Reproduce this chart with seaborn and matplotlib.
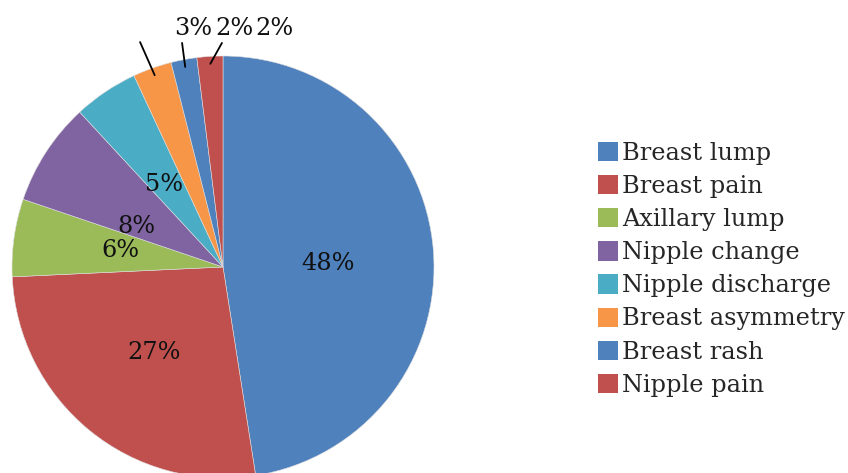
import matplotlib
matplotlib.use("Agg")
import matplotlib.pyplot as plt
import seaborn as sns
import numpy as np
from matplotlib.patches import Patch

categories = ["Breast lump", "Breast pain", "Axillary lump", "Nipple change",
              "Nipple discharge", "Breast asymmetry", "Breast rash", "Nipple pain"]
values = [48, 27, 6, 8, 5, 3, 2, 2]
labels = ["48%", "27%", "6%", "8%", "5%", "3%", "2%", "2%"]

sns.set_theme(style="white")
plt.rcParams['font.family'] = ['DejaVu Serif']

colors = ["#4F81BD", "#C0504D", "#9BBB59", "#8064A2", "#4BACC6", "#F79646", "#4F81BD", "#C0504D"]

W, H = 848, 473
fig = plt.figure(figsize=(W / 100, H / 100), dpi=100)
cx, cy, R = 223, 267, 211
ax = fig.add_axes([(cx - R) / W, (H - cy - R) / H, 2 * R / W, 2 * R / H])

wedges, _ = ax.pie(values, colors=colors, startangle=90, counterclock=False,
                   radius=1.0, wedgeprops=dict(linewidth=0.4, edgecolor="#dddddd"))
ax.set_xlim(-1, 1)
ax.set_ylim(-1, 1)
ax.set_aspect('equal')
ax.axis('off')
for w in wedges:
    w.set_clip_on(False)

fs = 17.3
# inner labels (radius fraction, angle offset in degrees)
inner_r = [0.5, 0.52, 0.49, 0.45, 0.48]
inner_da = [-2.5, 0, -1, 8, 1.5]
for i, w in enumerate(wedges[:5]):
    mid = np.deg2rad((w.theta1 + w.theta2) / 2 + inner_da[i])
    ax.text(inner_r[i] * np.cos(mid), inner_r[i] * np.sin(mid), labels[i],
            ha='center', va='center', fontsize=fs, color='#111111')

# outer labels with leaders
outer_pos = [(-0.142, 1.128), (0.052, 1.128), (0.246, 1.128)]
leader_end = [(-0.393, 1.066), (-0.194, 1.062), (-0.005, 1.062)]
for k, w in enumerate(wedges[5:]):
    mid = np.deg2rad((w.theta1 + w.theta2) / 2)
    sx, sy = 0.965 * np.cos(mid), 0.965 * np.sin(mid)
    ex, ey = leader_end[k]
    ax.plot([sx, ex], [sy, ey], color='black', lw=1.3, clip_on=False)
    ax.text(outer_pos[k][0], outer_pos[k][1], labels[5 + k], ha='center', va='center',
            fontsize=fs, color='#111111', clip_on=False)

handles = [Patch(facecolor=c, edgecolor='none') for c in colors]
fig.legend(handles, categories, loc='upper left', bbox_to_anchor=(598 / W, 1 - 142 / H),
           frameon=False, fontsize=fs, handlelength=0.85, handleheight=0.85,
           handletextpad=0.15, labelspacing=0.42, borderpad=0, borderaxespad=0)

fig.savefig("out.png", dpi=100)
